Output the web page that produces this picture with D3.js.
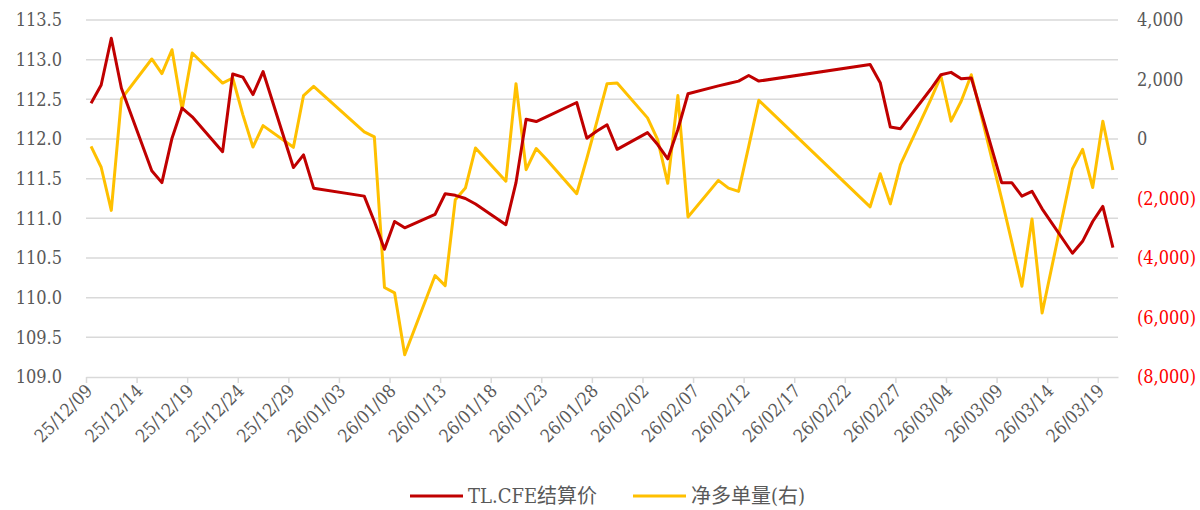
<!DOCTYPE html>
<html>
<head>
<meta charset="utf-8">
<script src="https://cdn.jsdelivr.net/npm/d3@7"></script>
<style>
  body { margin: 0; background: #fff; }
  .lbl { font-family: 'DejaVu Serif Condensed', 'DejaVu Serif', 'Noto Sans CJK SC', serif; font-stretch: condensed; }
</style>
</head>
<body>
<div id="chart"></div>
<script>
// data
var dates = ['25/12/09','25/12/10','25/12/11','25/12/12','25/12/15','25/12/16','25/12/17','25/12/18','25/12/19',
  '25/12/22','25/12/23','25/12/24','25/12/25','25/12/26','25/12/29','25/12/30','25/12/31',
  '26/01/05','26/01/06','26/01/07','26/01/08','26/01/09','26/01/12','26/01/13','26/01/14','26/01/15','26/01/16',
  '26/01/19','26/01/20','26/01/21','26/01/22','26/01/23','26/01/26','26/01/27','26/01/28','26/01/29','26/01/30',
  '26/02/02','26/02/03','26/02/04','26/02/05','26/02/06','26/02/09','26/02/10','26/02/11','26/02/12','26/02/13',
  '26/02/24','26/02/25','26/02/26','26/02/27','26/03/02','26/03/03','26/03/04','26/03/05','26/03/06',
  '26/03/09','26/03/10','26/03/11','26/03/12','26/03/13','26/03/16','26/03/17','26/03/18','26/03/19','26/03/20'];

var settlePrice = [112.45,112.68,113.27,112.64,111.60,111.45,112.01,112.39,112.28,
  111.84,112.82,112.78,112.56,112.85,111.64,111.80,111.38,
  111.28,110.96,110.61,110.96,110.88,111.05,111.31,111.29,111.25,111.18,
  110.92,111.45,112.25,112.22,112.28,112.46,112.01,112.10,112.18,111.87,
  112.08,111.93,111.75,112.12,112.57,112.67,112.70,112.73,112.80,112.73,
  112.94,112.71,112.15,112.13,112.63,112.81,112.84,112.76,112.77,
  111.45,111.45,111.28,111.34,111.12,110.56,110.71,110.96,111.15,110.63];

var netLong = [-250,-950,-2400,1350,2690,2200,3000,990,2890,
  1880,2050,820,-270,450,-280,1460,1770,
  240,70,-4990,-5170,-7250,-4590,-4930,-2040,-1650,-300,
  -1420,1860,-1030,-320,-680,-1840,-650,590,1860,1880,
  710,-20,-1490,1460,-2620,-1390,-1650,-1760,-250,1300,
  -2280,-1170,-2180,-860,1330,2110,600,1270,2160,
  -2010,-3460,-4950,-2690,-5850,-1000,-350,-1630,600,-1040];

var leftTicks = [109.0,109.5,110.0,110.5,111.0,111.5,112.0,112.5,113.0,113.5];
var rightTicks = [-8000,-6000,-4000,-2000,0,2000,4000];
var seriesNames = ['TL.CFE结算价','净多单量(右)'];
var seriesColors = ['#C00000','#FFC000'];

var svgWidth = 1200, svgHeight = 510;
var plot = {left: 86, right: 1118, top: 20, bottom: 377};

var svg = d3.select('#chart').append('svg')
  .attr('width', svgWidth)
  .attr('height', svgHeight);

var parse = d3.utcParse('%y/%m/%d');
var days = dates.map(parse);
var start = parse('25/12/09'),
    end = parse('26/03/21');

var xScale = d3.scaleUtc().domain([start, end]).range([plot.left, plot.right]);
var yLeft = d3.scaleLinear().domain([109, 113.5]).range([plot.bottom, plot.top]);
var yRight = d3.scaleLinear().domain([-8000, 4000]).range([plot.bottom, plot.top]);

// points sit in the middle of each day slot
var xPos = d => xScale(d3.utcHour.offset(d, 12));

// gridlines
svg.append('g').selectAll('line')
  .data(leftTicks.slice(1))
  .enter().append('line')
  .attr('x1', plot.left).attr('x2', plot.right)
  .attr('y1', d => yLeft(d)).attr('y2', d => yLeft(d))
  .attr('stroke', '#d9d9d9')
  .attr('stroke-width', 1.5);

// x axis
var xTicks = d3.range(0, 101, 5).map(n => d3.utcDay.offset(start, n));
var xAxis = svg.append('g')
  .attr('transform', `translate(0,${plot.bottom})`)
  .call(d3.axisBottom(xScale).tickValues(xTicks).tickFormat(d3.utcFormat('%y/%m/%d')).tickSizeInner(6).tickSizeOuter(0));
xAxis.select('.domain').attr('stroke', '#d9d9d9').attr('stroke-width', 1.5);
xAxis.selectAll('.tick line').attr('stroke', '#d9d9d9').attr('stroke-width', 1.5);
xAxis.selectAll('.tick text')
  .attr('text-anchor', 'end')
  .attr('dy', null)
  .attr('y', 0)
  .attr('transform', 'translate(7,15)rotate(-45)');

// left axis
var lAxis = svg.append('g')
  .attr('transform', `translate(${plot.left},0)`)
  .call(d3.axisLeft(yLeft).tickValues(leftTicks).tickFormat(d3.format('.1f')).tickSize(0).tickPadding(24));
lAxis.select('.domain').remove();

// right axis
var fmtRight = v => v < 0 ? `(${d3.format(',')(-v)})` : d3.format(',')(v);
var rAxis = svg.append('g')
  .attr('transform', `translate(${plot.right},0)`)
  .call(d3.axisRight(yRight).tickValues(rightTicks).tickFormat(fmtRight).tickSize(0).tickPadding(19));
rAxis.select('.domain').remove();

// lines
var lineLeft = d3.line().x((d, i) => xPos(days[i])).y(d => yLeft(d));
var lineRight = d3.line().x((d, i) => xPos(days[i])).y(d => yRight(d));

svg.append('path')
  .datum(netLong)
  .attr('d', lineRight)
  .attr('fill', 'none')
  .attr('stroke', seriesColors[1])
  .attr('stroke-width', 3)
  .attr('stroke-linejoin', 'round');

svg.append('path')
  .datum(settlePrice)
  .attr('d', lineLeft)
  .attr('fill', 'none')
  .attr('stroke', seriesColors[0])
  .attr('stroke-width', 3)
  .attr('stroke-linejoin', 'round');

// legend
var legendX = [410, 633];
var legend = svg.append('g').selectAll('g')
  .data(seriesNames)
  .enter().append('g')
  .attr('transform', (d, i) => `translate(${legendX[i]},496)`);
legend.append('line')
  .attr('x1', 0).attr('x2', 53)
  .attr('stroke', (d, i) => seriesColors[i])
  .attr('stroke-width', 3);
legend.append('text')
  .attr('x', 58)
  .attr('dy', '0.35em')
  .text(d => d);

// text styling
xAxis.attr('font-family', null).attr('font-size', null);
lAxis.attr('font-family', null).attr('font-size', null);
rAxis.attr('font-family', null).attr('font-size', null);
svg.selectAll('text')
  .attr('class', 'lbl')
  .attr('font-size', 18)
  .attr('fill', '#595959');
legend.selectAll('text').attr('font-size', 20);
rAxis.selectAll('text')
  .attr('fill', d => d < 0 ? '#FF0000' : '#595959');
</script>
</body>
</html>
